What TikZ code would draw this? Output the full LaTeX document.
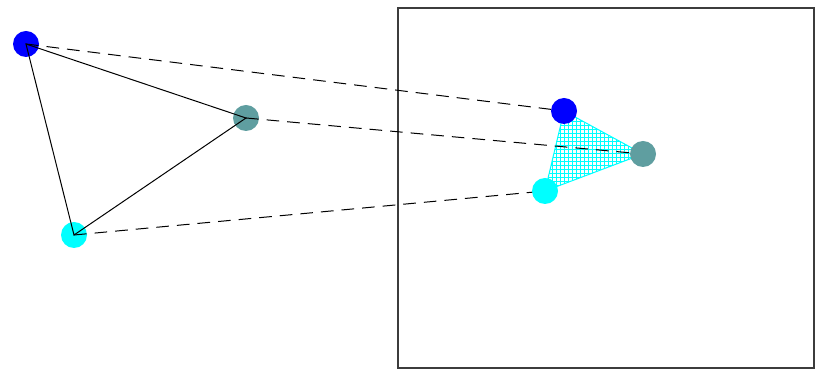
\documentclass[tikz,border=0pt]{standalone}
\usetikzlibrary{patterns}

\definecolor{vblue}{RGB}{0,0,255}
\definecolor{vteal}{RGB}{95,158,160}
\definecolor{vcyan}{RGB}{0,255,255}
\definecolor{frame}{RGB}{60,60,60}

\begin{document}
\begin{tikzpicture}[x=0.75pt,y=0.75pt,yscale=-1,xscale=1,
  vertex/.style={circle,inner sep=0pt,minimum size=19.5pt,draw=none},
  proj/.style={dash pattern={on 9.5pt off 6pt},line width=0.75pt},
  edge/.style={line width=0.75pt}]
\useasboundingbox (0,0) rectangle (821,373);

%Shape: Rectangle (view frame)
\draw [color=frame,line width=0.9pt] (398,8) rectangle (814,368);

%Hatched face in the view
\coordinate (fb) at (564,111);
\coordinate (ft) at (643,154);
\coordinate (fc) at (545,191);
\draw [vcyan,line width=0.75pt,pattern=grid,pattern color=vcyan] (fb) -- (ft) -- (fc) -- cycle;

%Vertices of the source triangle
\node [vertex,fill=vblue] (b1) at (26,44) {};
\node [vertex,fill=vteal] (t1) at (246,118) {};
\node [vertex,fill=vcyan] (c1) at (74,235) {};

%Edges of the source triangle
\draw [edge] (b1.center) -- (t1.center) -- (c1.center) -- cycle;

%Projection rays
\draw [proj] (b1.center) -- (fb);
\draw [proj] (t1.center) -- (ft);
\draw [proj] (c1.center) -- (fc);

%Vertices in the view
\node [vertex,fill=vblue] (b2) at (fb) {};
\node [vertex,fill=vteal] (t2) at (ft) {};
\node [vertex,fill=vcyan] (c2) at (fc) {};

\end{tikzpicture}
\end{document}
